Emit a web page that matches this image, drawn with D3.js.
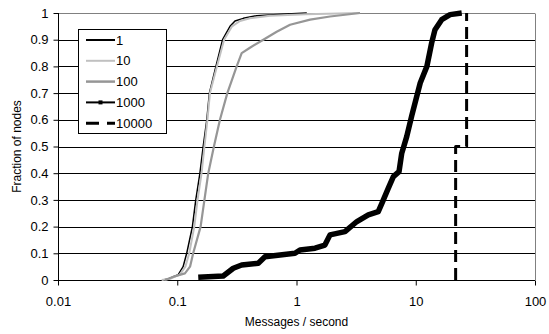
<!DOCTYPE html>
<html>
<head>
<meta charset="utf-8">
<script src="https://cdn.jsdelivr.net/npm/d3@7"></script>
<style>
  body { margin: 0; background: #fff; }
  svg { font-family: "Liberation Sans", Arial, sans-serif; }
  .tick-label { font-size: 13px; fill: #000; }
  .axis-title { font-size: 12px; fill: #000; }
  .legend text { font-size: 13px; fill: #000; }
</style>
</head>
<body>
<svg class="chart" width="549" height="334"></svg>
<script>
// values
const seriesNames = ["1", "10", "100", "1000", "10000"];
const xTicks = [0.01, 0.1, 1, 10, 100];
const xTickLabels = ["0.01", "0.1", "1", "10", "100"];
const yTicks = [0, 0.1, 0.2, 0.3, 0.4, 0.5, 0.6, 0.7, 0.8, 0.9, 1];
const yTickLabels = ["0", "0.1", "0.2", "0.3", "0.4", "0.5", "0.6", "0.7", "0.8", "0.9", "1"];

const rate1X = [0.076, 0.085, 0.102, 0.112, 0.12, 0.134, 0.143, 0.155, 0.165, 0.177, 0.186, 0.211, 0.24, 0.277, 0.305, 0.358, 0.464, 0.75, 1.22];
const rate1Y = [0, 0.005, 0.02, 0.05, 0.1, 0.2, 0.3, 0.4, 0.5, 0.6, 0.7, 0.8, 0.9, 0.95, 0.97, 0.98, 0.99, 0.995, 1];

const rate10X = [0.074, 0.088, 0.105, 0.117, 0.126, 0.139, 0.148, 0.16, 0.169, 0.179, 0.188, 0.215, 0.247, 0.288, 0.336, 0.407, 0.6, 1.2, 3.4];
const rate10Y = [0, 0.005, 0.02, 0.05, 0.1, 0.2, 0.3, 0.4, 0.5, 0.6, 0.7, 0.8, 0.9, 0.95, 0.97, 0.98, 0.99, 0.995, 1];

const rate100X = [0.079, 0.093, 0.116, 0.128, 0.136, 0.157, 0.169, 0.182, 0.203, 0.228, 0.263, 0.315, 0.347, 0.407, 0.527, 0.682, 0.883, 1.3, 1.91, 3.41];
const rate100Y = [0, 0.0125, 0.025, 0.05, 0.1, 0.2, 0.3, 0.4, 0.5, 0.6, 0.7, 0.8, 0.85, 0.87, 0.9, 0.93, 0.956, 0.975, 0.987, 1];

const rate1000X = [0.15, 0.243, 0.295, 0.347, 0.478, 0.544, 0.727, 0.971, 1.07, 1.43, 1.73, 1.91, 2.55, 3.21, 4.0, 4.85, 5.21, 5.89, 6.49, 7.24, 7.63, 8.4, 9.25, 10.9, 12.4, 13.6, 14.5, 16.5, 19.4, 24.3];
const rate1000Y = [0.01, 0.015, 0.044, 0.056, 0.063, 0.087, 0.094, 0.1, 0.1125, 0.119, 0.131, 0.169, 0.181, 0.219, 0.244, 0.256, 0.288, 0.344, 0.387, 0.406, 0.475, 0.537, 0.615, 0.738, 0.8, 0.888, 0.9375, 0.975, 0.994, 1];

const rate10000X = [21.6, 21.6, 26.7, 26.7];
const rate10000Y = [0, 0.5, 0.5, 1];

const seriesX = [rate1X, rate10X, rate100X, rate1000X, rate10000X];
const seriesY = [rate1Y, rate10Y, rate100Y, rate1000Y, rate10000Y];

const styles = [
  { color: "#000", width: 1.5, dash: null, legendWidth: 2 },
  { color: "#c0c0c0", width: 2, dash: null, legendWidth: 2 },
  { color: "#969696", width: 2.2, dash: null, legendWidth: 2.5 },
  { color: "#000", width: 5.5, dash: null, legendWidth: 2, marker: true },
  { color: "#000", width: 3, dash: "12,6", legendWidth: 3 }
];

const svg = d3.select("svg.chart");
const plotLeft = 58, plotRight = 535, plotTop = 13, plotBottom = 280;

const x = d3.scaleLog().domain([0.01, 100]).range([plotLeft, plotRight]);
const y = d3.scaleLinear().domain([0, 1]).range([plotBottom, plotTop]);

// horizontal gridlines
svg
  .append("g")
  .selectAll("line")
  .data(yTicks.slice(1))
  .enter()
  .append("line")
  .attr("x1", plotLeft)
  .attr("x2", plotRight)
  .attr("y1", (d) => Math.round(y(d)) + 0.5)
  .attr("y2", (d) => Math.round(y(d)) + 0.5)
  .attr("stroke", (d) => (d === 1 ? "#808080" : "#000"))
  .attr("stroke-width", 1);

// right border
svg
  .append("line")
  .attr("x1", plotRight + 0.5)
  .attr("x2", plotRight + 0.5)
  .attr("y1", Math.round(y(1)) + 0.5)
  .attr("y2", plotBottom)
  .attr("stroke", "#808080");

// axes
const yAxis = d3
  .axisLeft(y)
  .tickValues(yTicks)
  .tickFormat((d, i) => yTickLabels[i])
  .tickSize(5)
  .tickPadding(5);

const xAxis = d3
  .axisBottom(x)
  .tickValues(xTicks)
  .tickFormat((d, i) => xTickLabels[i])
  .tickSize(5)
  .tickPadding(11);

const yG = svg
  .append("g")
  .attr("transform", `translate(${plotLeft + 0.5},0)`)
  .call(yAxis);

const xG = svg
  .append("g")
  .attr("transform", `translate(0,${plotBottom + 0.5})`)
  .call(xAxis);

[yG, xG].forEach((g) => {
  g.attr("font-family", null).attr("font-size", null);
  g.select(".domain").remove();
  g.selectAll(".tick line").attr("stroke", "#000");
  g.selectAll("text").attr("class", "tick-label").attr("fill", "#000");
});
yG.append("line")
  .attr("x1", 0)
  .attr("x2", 0)
  .attr("y1", plotTop)
  .attr("y2", plotBottom + 0.5)
  .attr("stroke", "#000");
xG.append("line")
  .attr("x1", plotLeft)
  .attr("x2", plotRight)
  .attr("y1", 0)
  .attr("y2", 0)
  .attr("stroke", "#000");

// series
const line = d3
  .line()
  .x((d) => x(d[0]))
  .y((d) => y(d[1]));

seriesNames.forEach((name, i) => {
  const pts = seriesX[i].map((v, j) => [v, seriesY[i][j]]);
  svg
    .append("path")
    .datum(pts)
    .attr("d", line)
    .attr("fill", "none")
    .attr("stroke", styles[i].color)
    .attr("stroke-width", styles[i].width)
    .attr("stroke-linejoin", "round")
    .attr("stroke-dasharray", styles[i].dash);
});

// axis titles
svg
  .append("text")
  .attr("class", "axis-title")
  .attr("x", (plotLeft + plotRight) / 2)
  .attr("y", 326)
  .attr("text-anchor", "middle")
  .text("Messages / second");

svg
  .append("text")
  .attr("class", "axis-title")
  .attr("transform", `translate(21,${(plotTop + plotBottom) / 2}) rotate(-90)`)
  .attr("text-anchor", "middle")
  .text("Fraction of nodes");

// legend
const legend = svg.append("g").attr("class", "legend");
legend
  .append("rect")
  .attr("x", 78.5)
  .attr("y", 29.5)
  .attr("width", 88)
  .attr("height", 104)
  .attr("fill", "#fff")
  .attr("stroke", "#000");

const rows = legend
  .selectAll("g")
  .data(seriesNames)
  .enter()
  .append("g")
  .attr("transform", (d, i) => `translate(0,${40 + i * 20.8})`);

rows
  .append("line")
  .attr("x1", 86)
  .attr("x2", 115)
  .attr("y1", 0)
  .attr("y2", 0)
  .attr("stroke", (d, i) => styles[i].color)
  .attr("stroke-width", (d, i) => styles[i].legendWidth)
  .attr("stroke-dasharray", (d, i) => (styles[i].dash ? "13,8" : null));

rows
  .filter((d, i) => styles[i].marker)
  .append("rect")
  .attr("x", 98.5)
  .attr("y", -2)
  .attr("width", 4)
  .attr("height", 4)
  .attr("fill", "#000");

rows
  .append("text")
  .attr("x", 116)
  .attr("y", 0)
  .attr("dy", "0.35em")
  .text((d) => d);
</script>
</body>
</html>
